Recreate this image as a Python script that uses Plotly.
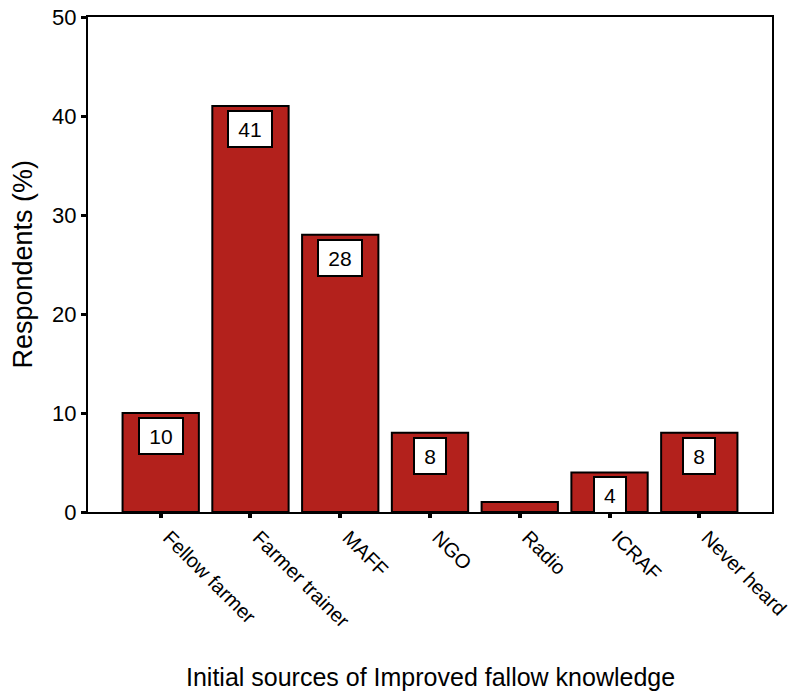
import plotly.graph_objects as go

# Initial sources of improved fallow knowledge (% of respondents)
categories = ["Fellow farmer", "Farmer trainer", "MAFF", "NGO", "Radio", "ICRAF", "Never heard"]
percent = [10, 41, 28, 8, 1, 4, 8]
value_labels = ["10", "41", "28", "8", "", "4", "8"]
y_ticks = [0, 10, 20, 30, 40, 50]

FONT = "Liberation Sans, Arial, sans-serif"
BAR_RED = "#b3211c"

fig = go.Figure()
fig.add_trace(go.Bar(
    x=categories,
    y=percent,
    width=0.85,
    marker=dict(color=BAR_RED, line=dict(color="black", width=2)),
    hoverinfo="x+y",
))

# White value boxes sitting just inside the top of each bar
for cat, val, lab in zip(categories, percent, value_labels):
    if not lab:
        continue
    fig.add_annotation(
        x=cat, y=val, xref="x", yref="y",
        text=lab, showarrow=False,
        yanchor="top", yshift=-4,
        width=28 if len(lab) > 1 else 16, height=20,
        bgcolor="white", bordercolor="black", borderwidth=2, borderpad=7,
        font=dict(family=FONT, size=21, color="black"),
    )

# Axis titles
fig.add_annotation(
    text="Respondents (%)", xref="paper", yref="paper", x=0, y=0.5,
    xshift=-66, xanchor="center", yanchor="middle", textangle=-90,
    showarrow=False, font=dict(family=FONT, size=27, color="black"),
)
fig.add_annotation(
    text="Initial sources of Improved fallow knowledge", xref="paper", yref="paper",
    x=0.5, y=0, yshift=-165, xanchor="center", yanchor="middle",
    showarrow=False, font=dict(family=FONT, size=25, color="black"),
)

fig.update_layout(
    width=790, height=693,
    margin=dict(l=88, r=18, t=17, b=181),
    paper_bgcolor="white", plot_bgcolor="white",
    showlegend=False,
    font=dict(family=FONT, color="black"),
    bargap=0.15,
)
fig.update_xaxes(
    type="category", range=[-0.81, 6.81], automargin=False,
    showline=True, linecolor="black", linewidth=2, mirror=True,
    ticks="outside", ticklen=4, tickwidth=4, tickcolor="black",
    tickangle=45, ticklabelshift=8,
    tickfont=dict(family=FONT, size=20, color="black"),
    showgrid=False, zeroline=False,
)
fig.update_yaxes(
    range=[0, 50], tickvals=y_ticks, automargin=False,
    showline=True, linecolor="black", linewidth=2, mirror=True,
    ticks="outside", ticklen=5, tickwidth=3, tickcolor="black",
    tickfont=dict(family=FONT, size=22, color="black"),
    showgrid=False, zeroline=False,
)

fig.write_html("out.html")
